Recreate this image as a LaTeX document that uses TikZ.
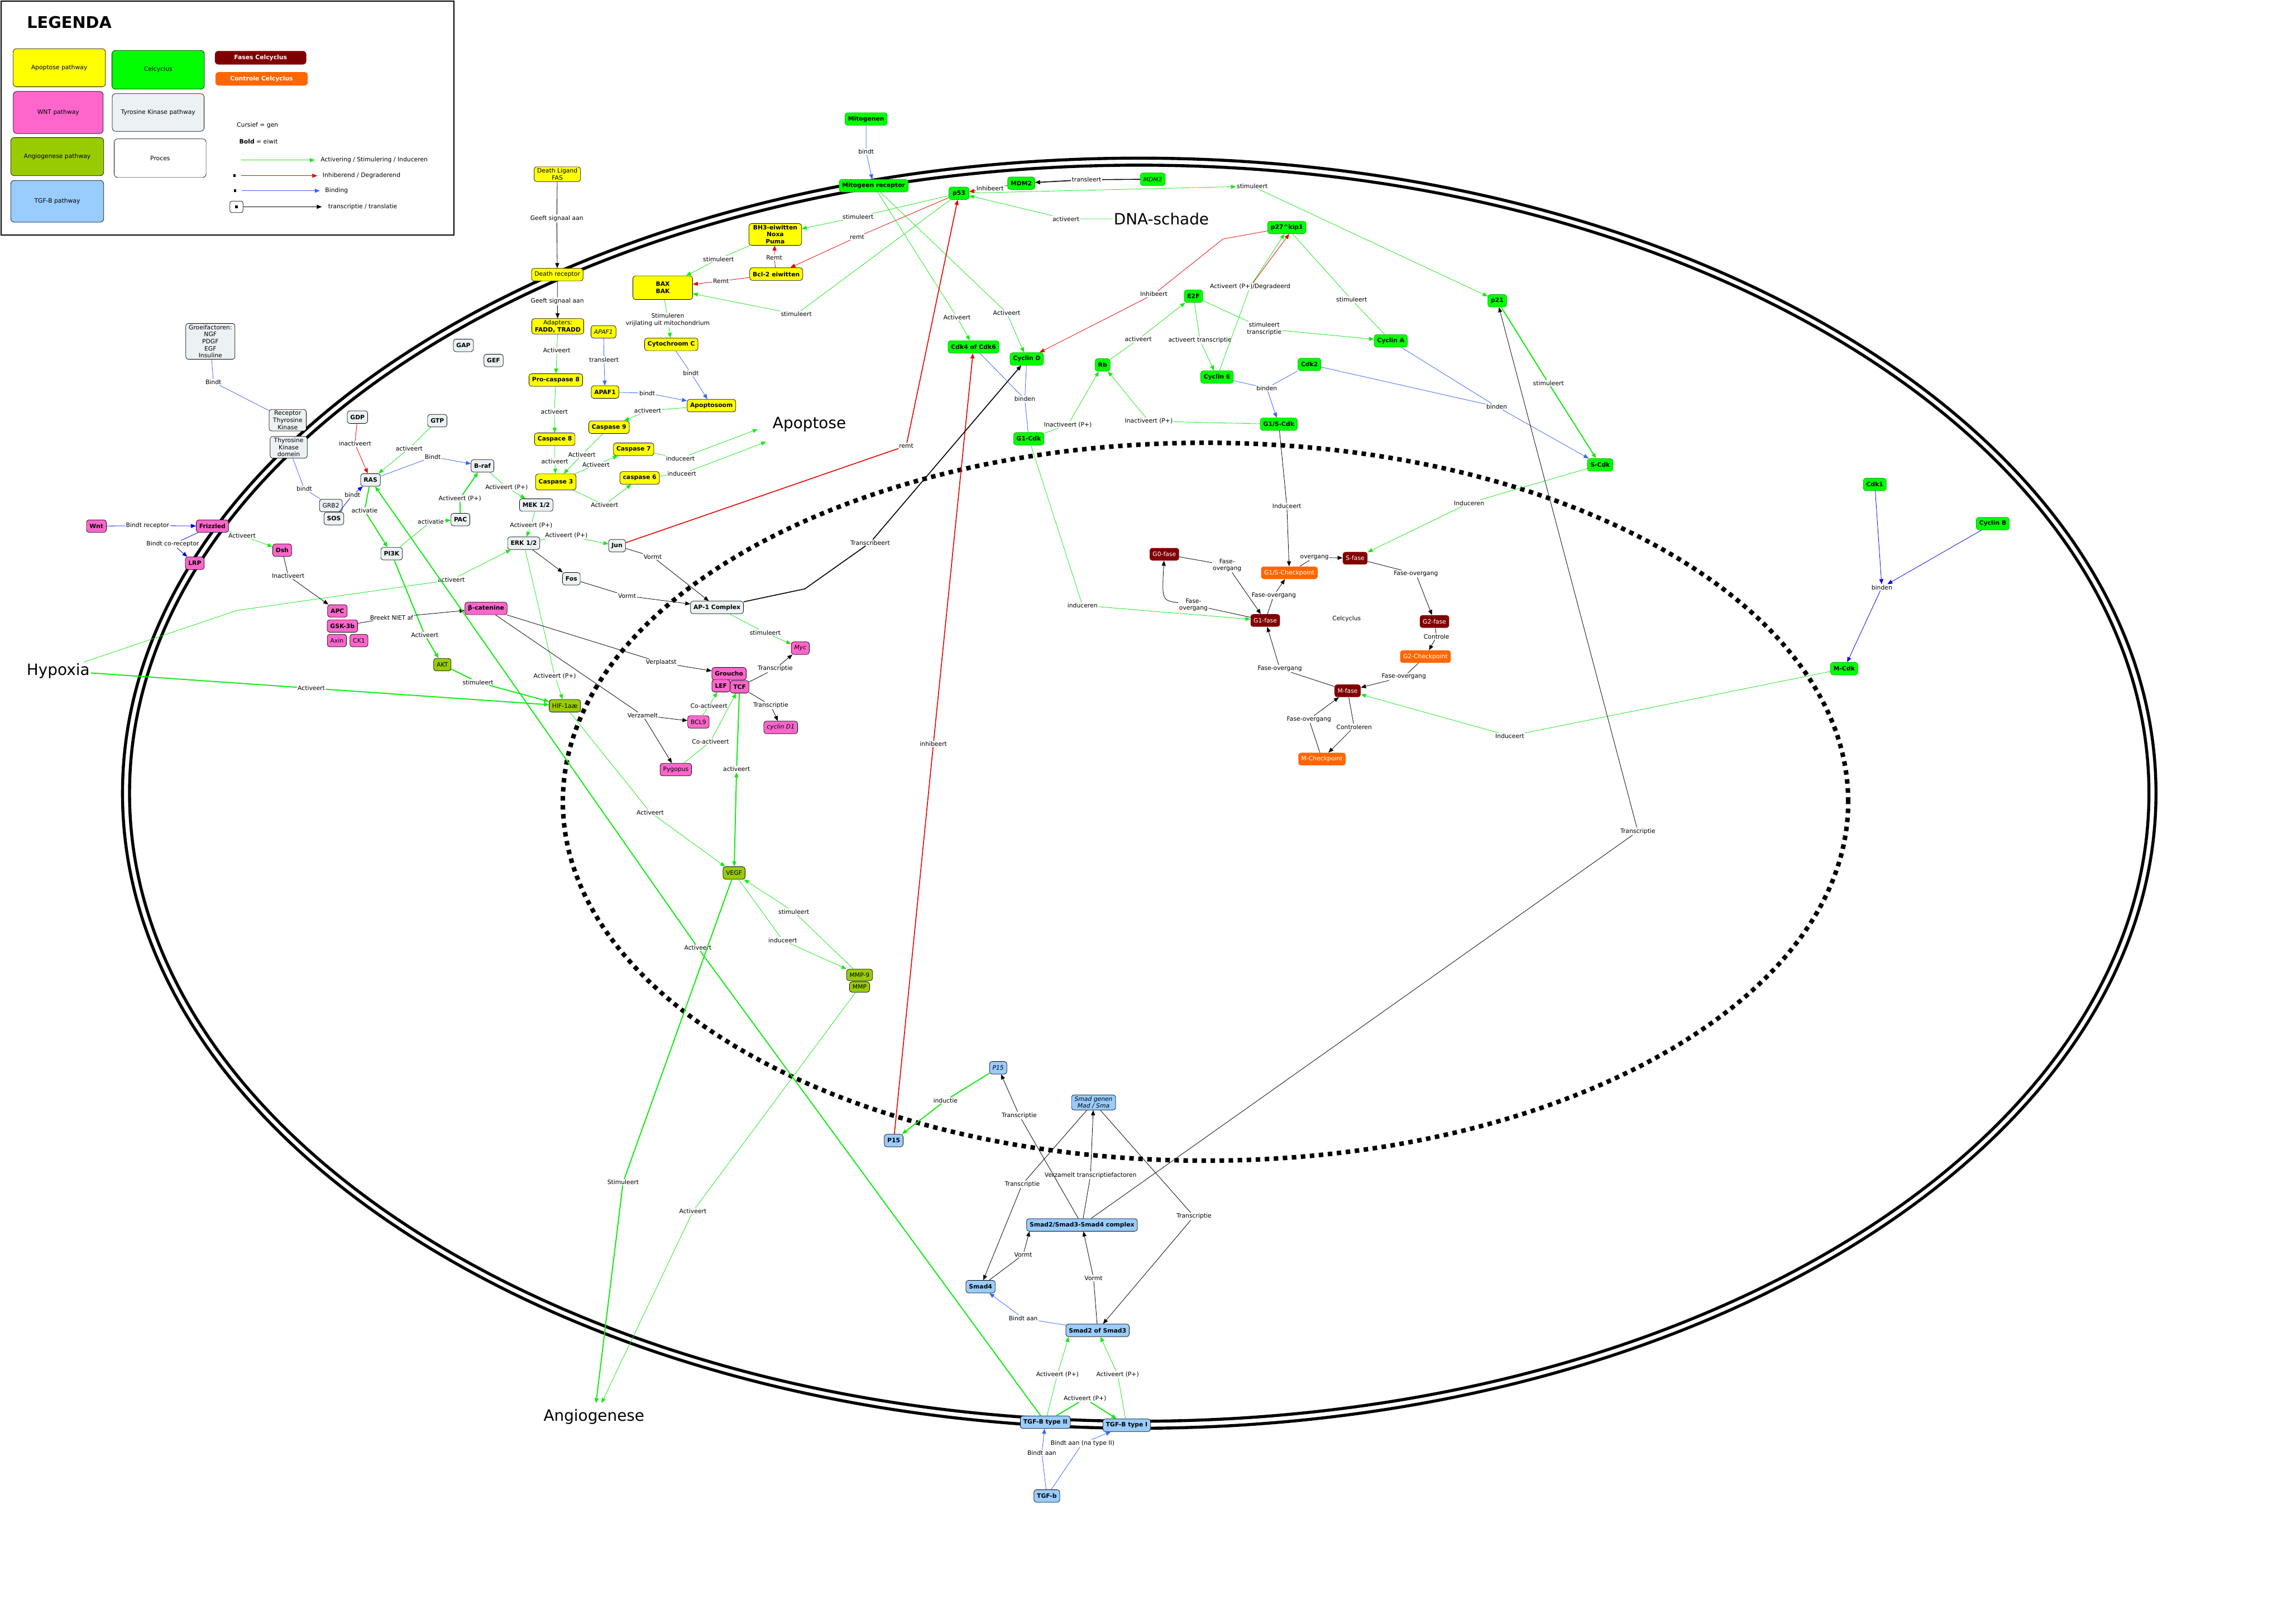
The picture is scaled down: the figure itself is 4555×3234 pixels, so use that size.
\documentclass[tikz,border=0pt]{standalone}
\usepackage{fontspec}
\setmainfont{DejaVu Sans}
\usetikzlibrary{arrows.meta}
\definecolor{apoY}{RGB}{255,255,0}
\definecolor{celG}{RGB}{0,255,0}
\definecolor{wntP}{RGB}{255,102,204}
\definecolor{tyrG}{RGB}{236,242,244}
\definecolor{angO}{RGB}{153,204,0}
\definecolor{tgfB}{RGB}{153,204,255}
\definecolor{faseR}{RGB}{128,0,0}
\definecolor{ctrlO}{RGB}{255,102,0}
\definecolor{lineG}{RGB}{20,235,20}
\definecolor{lineR}{RGB}{235,0,0}
\definecolor{lineB}{RGB}{51,102,255}
\definecolor{lineDB}{RGB}{0,0,230}
\newcommand{\mapfont}{\fontsize{12}{14}\selectfont}

\begin{document}
\begin{tikzpicture}[x=1pt,y=-1pt,
    box/.style={draw,rounded corners=5pt,line width=0.8pt,align=center,inner xsep=6pt,inner ysep=3pt,minimum height=25pt,font=\mapfont\bfseries},
    apo/.style={box,fill=apoY},
    cel/.style={box,fill=celG,draw=celG!70!black},
    wnt/.style={box,fill=wntP},
    tyr/.style={box,fill=tyrG},
    ang/.style={box,fill=angO,font=\mapfont},
    tgf/.style={box,fill=tgfB},
    fase/.style={box,fill=faseR,draw=none,text=white,font=\mapfont},
    ctrl/.style={box,fill=ctrlO,draw=none,text=white,font=\mapfont},
    gen/.style={font=\mapfont\itshape},
    lbl/.style={font=\mapfont,inner sep=1.5pt,align=center},
    big/.style={font=\fontsize{31}{37}\selectfont,inner sep=2pt},
    legbox/.style={draw,rounded corners=7pt,line width=0.8pt,font=\mapfont,align=center},
    sq/.style={fill=black,minimum size=5pt,inner sep=0pt},
    gl/.style={draw=lineG,line width=0.9pt},
    glb/.style={draw=lineG,line width=2.2pt},
    rl/.style={draw=lineR,line width=0.9pt},
    rlb/.style={draw=lineR,line width=1.8pt},
    bl/.style={draw=lineB,line width=0.9pt},
    dbl/.style={draw=lineDB,line width=0.9pt},
    kl/.style={draw=black,line width=0.9pt},
    klb/.style={draw=black,line width=1.8pt},
    arr/.style={-{Triangle[length=10pt,width=8pt]}},
    arr2/.style={{Triangle[length=10pt,width=8pt]}-{Triangle[length=10pt,width=8pt]}}
]
\useasboundingbox (0,0) rectangle (4555,3234);
\fill[white] (0,0) rectangle (4555,3234);

\draw[line width=2pt] (2,2) rectangle (904,468);
\node[font=\fontsize{32}{38}\selectfont\bfseries] (legTitle) at (138,45) {LEGENDA};
\node[legbox,fill=apoY,minimum width=184pt,minimum height=76pt]  (legApo)  at (118,135) {Apoptose pathway};
\node[legbox,fill=celG,minimum width=184pt,minimum height=77pt]  (legCel)  at (315,139) {Celcyclus};
\node[legbox,fill=faseR,draw=none,text=white,font=\mapfont\bfseries,minimum width=182pt,minimum height=27pt] (legFase) at (519,115) {Fases Celcyclus};
\node[legbox,fill=ctrlO,draw=none,text=white,font=\mapfont\bfseries,minimum width=184pt,minimum height=27pt] (legCtrl) at (521,157) {Controle Celcyclus};
\node[legbox,fill=wntP,minimum width=179pt,minimum height=84pt]  (legWnt)  at (116,224) {WNT pathway};
\node[legbox,fill=tyrG,minimum width=183pt,minimum height=75pt]  (legTyr)  at (315,224) {Tyrosine Kinase pathway};
\node[legbox,fill=angO,minimum width=185pt,minimum height=76pt]  (legAng)  at (114,312) {Angiogenese pathway};
\node[legbox,fill=white,minimum width=183pt,minimum height=77pt] (legProc) at (319,315) {Proces};
\node[legbox,fill=tgfB,minimum width=185pt,minimum height=83pt]  (legTgf)  at (114,401) {TGF-B pathway};
\node[lbl,anchor=west] (legGen)  at (470,250) {Cursief = gen};
\node[lbl,anchor=west] (legBold) at (475,282) {\textbf{Bold} = eiwit};
\coordinate (legG1) at (480,319); \coordinate (legG2) at (627,319);
\coordinate (legR1) at (480,350); \coordinate (legR2) at (632,350);
\coordinate (legB1) at (481,380); \coordinate (legB2) at (637,380);
\coordinate (legK2) at (641,412);
\node[sq] (legSqR) at (467,350) {};
\node[sq] (legSqB) at (468,380) {};
\node[draw,rounded corners=4pt,line width=0.8pt,minimum width=26pt,minimum height=23pt] (legBoxK) at (471,412) {};
\node[sq] (legSqK) at (471,412) {};
\draw[gl,arr] (legG1) -- (legG2);
\draw[rl,arr] (legR1) -- (legR2);
\draw[bl,arr] (legB1) -- (legB2);
\draw[kl,arr] (legBoxK) -- (legK2);
\node[lbl,anchor=west] (legGt) at (637,319) {Activering / Stimulering / Induceren};
\node[lbl,anchor=west] (legRt) at (641,350) {Inhiberend / Degraderend};
\node[lbl,anchor=west] (legBt) at (646,380) {Binding};
\node[lbl,anchor=west] (legKt) at (652,412) {transcriptie / translatie};

\draw[line width=6pt] (2269,1580) ellipse [x radius=2025pt, y radius=1265pt];
\draw[line width=6pt] (2269,1580) ellipse [x radius=2011pt, y radius=1251pt];
\draw[line width=9pt,dash pattern=on 9pt off 9pt] (2401,1597) ellipse [x radius=1280pt, y radius=715pt];

\node[big] (apoTxt) at (1612,845)  {Apoptose};
\node[big] (dnaTxt) at (2313,436)  {DNA-schade};
\node[big] (hypTxt) at (116,1336)  {Hypoxia};
\node[big] (angTxt) at (1183,2822) {Angiogenese};
\node[lbl] (celTxt) at (2682,1233) {Celcyclus};

\node[apo,font=\mapfont] (dLig)  at (1110,347) {Death Ligand\\FAS};
\node[apo,font=\mapfont] (dRec)  at (1110,547) {Death receptor};
\node[apo,font=\mapfont] (adapt) at (1111,650) {Adapters:\\\textbf{FADD, TRADD}};
\node[apo,gen]  (apafGen) at (1202,661) {APAF1};
\node[apo]      (proC8)   at (1107,757) {Pro-caspase 8};
\node[apo]      (apaf)    at (1205,781) {APAF1};
\node[apo]      (apopt)   at (1417,808) {Apoptosoom};
\node[apo]      (cytC)    at (1337,686) {Cytochroom C};
\node[apo,minimum width=119pt,minimum height=47pt] (bax) at (1320,573) {BAX\\BAK};
\node[apo,minimum width=105pt] (bh3) at (1544,467) {BH3-eiwitten\\Noxa\\Puma};
\node[apo]      (bcl2)    at (1546,546) {Bcl-2 eiwitten};
\node[apo]      (casp9)   at (1213,851) {Caspase 9};
\node[apo]      (casp8)   at (1105,875) {Caspace 8};
\node[apo]      (casp7)   at (1262,895) {Caspase 7};
\node[apo,minimum height=32pt] (casp3) at (1107,960) {Caspase 3};
\node[apo]      (casp6)   at (1274,952) {caspase 6};

\node[cel] (mitog)   at (1725,237) {Mitogenen};
\node[cel] (mitRec)  at (1740,370) {Mitogeen receptor};
\node[cel] (mdm2)    at (2034,365) {MDM2};
\node[cel,gen] (mdm2Gen) at (2296,357) {MDM2};
\node[cel,minimum width=40pt] (p53) at (1910,385) {p53};
\node[cel] (p27)     at (2563,453) {p27\textasciicircum kip1};
\node[cel] (e2f)     at (2377,590) {E2F};
\node[cel] (cycA)    at (2770,679) {Cyclin A};
\node[cel] (cdk46)   at (1939,691) {Cdk4 of Cdk6};
\node[cel] (cycD)    at (2045,715) {Cyclin D};
\node[cel] (rb)      at (2196,727) {Rb};
\node[cel] (cycE)    at (2424,751) {Cyclin E};
\node[cel] (cdk2)    at (2608,726) {Cdk2};
\node[cel] (g1sCdk)  at (2547,845) {G1/S-Cdk};
\node[cel] (g1Cdk)   at (2049,874) {G1-Cdk};
\node[cel] (p21)     at (2982,599) {p21};
\node[cel] (sCdk)    at (3187,926) {S-Cdk};
\node[cel] (cdk1)    at (3734,965) {Cdk1};
\node[cel] (cycB)    at (3969,1043) {Cyclin B};
\node[cel] (mCdk)    at (3673,1332) {M-Cdk};

\node[fase] (g0)     at (2319,1104) {G0-fase};
\node[fase] (sFase)  at (2699,1112) {S-fase};
\node[fase] (g1Fase) at (2520,1236) {G1-fase};
\node[fase] (g2Fase) at (2857,1238) {G2-fase};
\node[fase] (mFase)  at (2684,1376) {M-fase};
\node[ctrl] (g1sChk) at (2568,1141) {G1/S-Checkpoint};
\node[ctrl] (g2Chk)  at (2839,1308) {G2-Checkpoint};
\node[ctrl] (mChk)   at (2633,1512) {M-Checkpoint};

\node[tyr,font=\mapfont] (groei) at (419,680) {Groeifactoren:\\NGF\\PDGF\\EGF\\Insuline};
\node[tyr,font=\mapfont,minimum width=74pt] (recTK) at (573,837) {Receptor\\Thyrosine\\Kinase};
\node[tyr,font=\mapfont,minimum width=74pt] (tkDom) at (575,891) {Thyrosine\\Kinase\\domein};
\node[tyr] (gap)  at (923,688)  {GAP};
\node[tyr] (gef)  at (983,718)  {GEF};
\node[tyr] (gdp)  at (712,831)  {GDP};
\node[tyr] (gtp)  at (871,838)  {GTP};
\node[tyr] (ras)  at (738,956)  {RAS};
\node[tyr] (braf) at (961,928)  {B-raf};
\node[tyr,font=\mapfont] (grb2) at (659,1007) {GRB2};
\node[tyr] (sos)  at (665,1033) {SOS};
\node[tyr] (pac)  at (917,1035) {PAC};
\node[tyr] (mek)  at (1068,1006) {MEK 1/2};
\node[tyr] (pi3k) at (780,1103) {PI3K};
\node[tyr] (erk)  at (1043,1082) {ERK 1/2};
\node[tyr] (fos)  at (1138,1153) {Fos};
\node[tyr] (jun)  at (1229,1087) {Jun};
\node[tyr] (ap1)  at (1428,1210) {AP-1 Complex};

\node[wnt] (wntN)    at (192,1048)  {Wnt};
\node[wnt] (frz)     at (423,1048)  {Frizzled};
\node[wnt] (lrp)     at (388,1122)  {LRP};
\node[wnt] (dsh)     at (562,1096)  {Dsh};
\node[wnt] (apc)     at (672,1217)  {APC};
\node[wnt] (gsk)     at (682,1247)  {GSK-3b};
\node[wnt,font=\mapfont] (axin) at (671,1276) {Axin};
\node[wnt,font=\mapfont] (ck1)  at (715,1276) {CK1};
\node[wnt] (bcat)    at (968,1212)  {β-catenine};
\node[wnt,gen] (myc) at (1594,1291) {Myc};
\node[wnt] (groucho) at (1452,1342) {Groucho};
\node[wnt] (lef)     at (1436,1366) {LEF};
\node[wnt] (tcf)     at (1473,1368) {TCF};
\node[wnt,gen] (cycD1) at (1555,1449) {cyclin D1};
\node[wnt,font=\mapfont] (bcl9) at (1391,1438) {BCL9};
\node[wnt,font=\mapfont] (pygo) at (1346,1533) {Pygopus};

\node[ang] (akt)  at (881,1324)  {AKT};
\node[ang] (hif)  at (1125,1406) {HIF-1aæ};
\node[ang] (vegf) at (1462,1739) {VEGF};
\node[ang,minimum height=23pt] (mmp9) at (1712,1942) {MMP-9};
\node[ang,minimum height=21pt] (mmp)  at (1712,1966) {MMP};

\node[tgf] (p15)     at (1780,2272) {P15};
\node[tgf,gen] (p15Gen)  at (1988,2127) {P15};
\node[tgf,gen] (smadGen) at (2178,2196) {Smad genen\\Mad / Sma};
\node[tgf] (cplx)    at (2155,2440) {Smad2/Smad3-Smad4 complex};
\node[tgf] (smad4)   at (1953,2563) {Smad4};
\node[tgf] (smad23)  at (2186,2650) {Smad2 of Smad3};
\node[tgf] (tgfR2)   at (2082,2833) {TGF-B type II};
\node[tgf] (tgfR1)   at (2244,2839) {TGF-B type I};
\node[tgf] (tgfb)    at (2085,2980) {TGF-b};

\node[lbl] (lFas)    at (1109,435)  {Geeft signaal aan};
\node[lbl] (lRec)    at (1110,600)  {Geeft signaal aan};
\node[lbl] (lAdapt)  at (1109,698)  {Activeert};
\node[lbl] (lApafT)  at (1203,717)  {transleert};
\node[lbl] (lApafB)  at (1289,783)  {bindt};
\node[lbl] (lCytB)   at (1376,743)  {bindt};
\node[lbl] (lBax)    at (1330,637)  {Stimuleren\\vrijlating uit mitochondrium};
\node[lbl] (lPro)    at (1104,820)  {activeert};
\node[lbl] (lApo9)   at (1290,818)  {activeert};
\node[lbl] (lC83)    at (1105,919)  {activeert};
\node[lbl] (lC93)    at (1159,906)  {Activeert};
\node[lbl] (lC37)    at (1187,926)  {Activeert};
\node[lbl] (lC36)    at (1204,1006) {Activeert};
\node[lbl] (lC7)     at (1355,913)  {induceert};
\node[lbl] (lC6)     at (1358,944)  {induceert};
\coordinate (apoIn1) at (1509,855);
\coordinate (apoIn2) at (1526,880);
\node[lbl] (lMitog)  at (1725,302)  {bindt};
\node[lbl] (lP53Bh3) at (1709,432)  {stimuleert};
\node[lbl] (lBh3Bax) at (1431,516)  {stimuleert};
\node[lbl] (lBclBh3) at (1542,513)  {Remt};
\node[lbl] (lBclBax) at (1436,560)  {Remt};
\node[lbl] (lP53Bcl) at (1707,472)  {remt};
\node[lbl] (lP53Bax) at (1586,626)  {stimuleert};
\node[lbl] (lMrCdk)  at (1906,632)  {Activeert};
\node[lbl] (lMrCyc)  at (2005,623)  {Activeert};
\node[lbl] (lJunP53) at (1805,888)  {remt};
\node[lbl] (lP15Cdk) at (1859,1482) {inhibeert};
\node[lbl] (lAp1)    at (1733,1081) {Transcribeert};
\coordinate (ap1Bend) at (1603,1173);
\node[lbl] (lBind1)  at (2041,795)  {binden};
\node[lbl] (lG1Rb)   at (2127,846)  {Inactiveert (P+)};
\node[lbl] (lG1sRb)  at (2288,839)  {Inactiveert (P+)};
\node[lbl] (lRbE2f)  at (2267,676)  {activeert};
\node[lbl] (lE2fE)   at (2390,678)  {activeert transcriptie};
\node[lbl] (lE2fA)   at (2518,655)  {stimuleert\\transcriptie};
\node[lbl] (lDegr)   at (2490,571)  {Activeert (P+)/Degradeerd};
\node[lbl] (lP27D)   at (2298,586)  {Inhibeert};
\coordinate (p27Bend) at (2436,476);
\node[lbl] (lAP27)   at (2692,597)  {stimuleert};
\node[lbl] (lBind2)  at (2523,773)  {binden};
\node[lbl] (lBind3)  at (2981,810)  {binden};
\node[lbl] (lP53P21) at (2494,371)  {stimuleert};
\node[lbl] (lMdm)    at (2164,358)  {transleert};
\node[lbl] (lMdmP53) at (1972,375)  {Inhibeert};
\node[lbl] (lDna)    at (2123,436)  {activeert};
\node[lbl] (lP21S)   at (3084,763)  {stimuleert};
\node[lbl] (lG1sInd) at (2563,1008) {Induceert};
\node[lbl] (lSInd)   at (2926,1002) {Induceren};
\node[lbl] (lMInd)   at (3007,1466) {Induceert};
\node[lbl] (lBind4)  at (3748,1170) {binden};
\node[lbl] (lG1Ind)  at (2156,1206) {induceren};
\node[lbl] (lOverg)  at (2618,1110) {overgang};
\node[lbl] (lSG2)    at (2820,1143) {Fase-overgang};
\node[lbl] (lG2Ctl)  at (2861,1268) {Controle};
\node[lbl] (lG2M)    at (2796,1348) {Fase-overgang};
\node[lbl] (lMG1)    at (2549,1332) {Fase-overgang};
\node[lbl] (lMCtl)   at (2697,1448) {Controleren};
\node[lbl] (lMChk)   at (2607,1433) {Fase-overgang};
\node[lbl] (lG1G1s)  at (2537,1186) {Fase-overgang};
\node[lbl] (lG0G1)   at (2444,1126) {Fase-\\overgang};
\node[lbl] (lG1G0)   at (2377,1205) {Fase-\\overgang};
\node[lbl] (lGroei)  at (425,761)   {Bindt};
\node[lbl] (lTkGrb)  at (606,974)   {bindt};
\node[lbl] (lSosRas) at (702,986)   {bindt};
\node[lbl] (lGdp)    at (707,884)   {inactiveert};
\node[lbl] (lGtp)    at (815,893)   {activeert};
\node[lbl] (lRasBraf) at (862,910)  {Bindt};
\node[lbl] (lRasPi3k) at (726,1017) {activatie};
\node[lbl] (lPi3kPac) at (858,1039) {activatie};
\node[lbl] (lPacBraf) at (916,993)  {Activeert (P+)};
\node[lbl] (lBrafMek) at (1009,971) {Activeert (P+)};
\node[lbl] (lMekErk) at (1058,1047) {Activeert (P+)};
\node[lbl] (lErkJun) at (1128,1067) {Activeert (P+)};
\node[lbl] (lErkHif) at (1105,1347) {Activeert (P+)};
\node[lbl] (lJunAp1) at (1300,1109) {Vormt};
\node[lbl] (lFosAp1) at (1249,1187) {Vormt};
\node[lbl] (lAp1Myc) at (1524,1260) {stimuleert};
\node[lbl] (lTcfMyc) at (1544,1332) {Transcriptie};
\node[lbl] (lTcfD1)  at (1535,1405) {Transcriptie};
\node[lbl] (lBcatGr) at (1317,1320) {Verplaatst};
\node[lbl] (lVerz)   at (1280,1425) {Verzamelt};
\node[lbl] (lBcl9)   at (1412,1406) {Co-activeert};
\node[lbl] (lPygo)   at (1415,1477) {Co-activeert};
\node[lbl] (lTcfVegf) at (1467,1532) {activeert};
\node[lbl] (lHypHif) at (620,1371)  {Activeert};
\node[lbl] (lHypErk) at (899,1155)  {activeert};
\coordinate (hypBend) at (472,1216);
\node[lbl] (lAktHif) at (952,1359)  {stimuleert};
\node[lbl] (lPi3kAkt) at (846,1265) {Activeert};
\node[lbl] (lWnt)    at (294,1047)  {Bindt receptor};
\node[lbl] (lLrp)    at (344,1084)  {Bindt co-receptor};
\node[lbl] (lDsh)    at (482,1067)  {Activeert};
\node[lbl] (lDshApc) at (574,1147)  {Inactiveert};
\node[lbl] (lGskB)   at (780,1230)  {Breekt NIET af};
\node[lbl] (lHifVegf) at (1295,1618) {Activeert};
\node[lbl] (lTgfRas) at (1390,1888) {Activeert};
\node[lbl] (lVegfAng) at (1241,2355) {Stimuleert};
\node[lbl] (lMmpAng) at (1380,2413) {Activeert};
\coordinate (angIn1) at (1187,2795);
\coordinate (angIn2) at (1198,2795);
\node[lbl] (lMmpVegf) at (1581,1816) {stimuleert};
\node[lbl] (lVegfMmp) at (1559,1873) {induceert};
\node[lbl] (lInduc)  at (1883,2192) {inductie};
\node[lbl] (lCpP15)  at (2030,2222) {Transcriptie};
\node[lbl] (lGenS4)  at (2036,2359) {Transcriptie};
\node[lbl] (lCpGen)  at (2172,2341) {Verzamelt transcriptiefactoren};
\node[lbl] (lGenS23) at (2378,2423) {Transcriptie};
\node[lbl] (lS4Cp)   at (2038,2499) {Vormt};
\node[lbl] (lS23Cp)  at (2178,2546) {Vormt};
\node[lbl] (lS23S4)  at (2038,2626) {Bindt aan};
\node[lbl] (lR2S)    at (2106,2738) {Activeert (P+)};
\node[lbl] (lR1S)    at (2226,2738) {Activeert (P+)};
\node[lbl] (lR2R1)   at (2161,2786) {Activeert (P+)};
\node[lbl] (lTgbR1)  at (2156,2875) {Bindt aan (na type II)};
\node[lbl] (lTgbR2)  at (2075,2894) {Bindt aan};
\node[lbl] (lCpP21)  at (3262,1656) {Transcriptie};

\draw[kl,arr] (dLig) -- (lFas) -- (dRec);
\draw[kl,arr] (dRec) -- (lRec) -- (adapt);
\draw[gl,arr] (adapt) -- (lAdapt) -- (proC8);
\draw[bl,arr] (apafGen) -- (lApafT) -- (apaf);
\draw[bl,arr] (apaf) -- (lApafB) -- (apopt);
\draw[bl,arr] (cytC) -- (lCytB) -- (apopt);
\draw[gl,arr] (bax) -- (lBax) -- (cytC);
\draw[gl,arr] (proC8) -- (lPro) -- (casp8);
\draw[gl,arr] (apopt) -- (lApo9) -- (casp9);
\draw[gl,arr] (casp8) -- (lC83) -- (casp3);
\draw[gl,arr] (casp9) -- (lC93) -- (casp3);
\draw[gl,arr] (casp3) -- (lC37) -- (casp7);
\draw[gl,arr] (casp3) -- (lC36) -- (casp6);
\draw[gl,arr] (casp7) -- (lC7) -- (apoIn1);
\draw[gl,arr] (casp6) -- (lC6) -- (apoIn2);

\draw[bl,arr] (mitog) -- (lMitog) -- (mitRec);
\draw[gl,arr] (p53) -- (lP53Bh3) -- (bh3);
\draw[gl,arr] (bh3) -- (lBh3Bax) -- (bax);
\draw[rl,arr] (bcl2) -- (lBclBh3) -- (bh3);
\draw[rl,arr] (bcl2) -- (lBclBax) -- (bax);
\draw[rl,arr] (p53) -- (lP53Bcl) -- (bcl2);
\draw[gl,arr] (p53) -- (lP53Bax) -- (bax);
\draw[gl,arr] (mitRec) -- (lMrCdk) -- (cdk46);
\draw[gl,arr] (mitRec) -- (lMrCyc) -- (cycD);
\draw[rlb,arr] (jun) -- (lJunP53) -- (p53);
\draw[rlb,arr] (p15) -- (lP15Cdk) -- (cdk46);
\draw[klb,arr] (ap1) -- (ap1Bend) -- (lAp1) -- (cycD);
\draw[bl] (cdk46) -- (lBind1);
\draw[bl] (cycD) -- (lBind1) -- (g1Cdk);
\draw[gl,arr] (g1Cdk) -- (lG1Rb) -- (rb);
\draw[gl,arr] (g1sCdk) -- (lG1sRb) -- (rb);
\draw[gl,arr] (rb) -- (lRbE2f) -- (e2f);
\draw[gl,arr] (e2f) -- (lE2fE) -- (cycE);
\draw[gl,arr] (e2f) -- (lE2fA) -- (cycA);
\draw[gl,arr] (cycE) -- (lDegr) -- (p27.250);
\draw[rl,arr] (lDegr) -- (p27.290);
\draw[rl,arr] (p27) -- (p27Bend) -- (lP27D) -- (cycD);
\draw[gl] (cycA) -- (lAP27) -- (p27);
\draw[bl] (cycE) -- (lBind2);
\draw[bl,arr] (cdk2) -- (lBind2) -- (g1sCdk);
\draw[bl] (cdk2) -- (lBind3);
\draw[bl,arr] (cycA) -- (lBind3) -- (sCdk);
\draw[gl,arr] (p53) -- (lP53P21);
\draw[gl,arr] (lP53P21) -- (p21);
\draw[klb,arr] (mdm2Gen) -- (lMdm) -- (mdm2);
\draw[rl,arr] (mdm2) -- (lMdmP53) -- (p53);
\draw[gl,arr] (dnaTxt) -- (lDna) -- (p53);
\draw[glb,arr] (p21) -- (lP21S) -- (sCdk);
\draw[kl,arr] (g1sCdk) -- (lG1sInd) -- (g1sChk);
\draw[gl,arr] (sCdk) -- (lSInd) -- (sFase);
\draw[gl,arr] (mCdk) -- (lMInd) -- (mFase);
\draw[dbl,arr] (cdk1) -- (lBind4);
\draw[dbl,arr] (cycB) -- (lBind4);
\draw[dbl,arr] (lBind4) -- (mCdk);
\draw[gl,arr] (g1Cdk) -- (lG1Ind) -- (g1Fase);
\draw[kl,arr] (g1sChk) -- (lOverg) -- (sFase);
\draw[kl,arr] (sFase) -- (lSG2) -- (g2Fase);
\draw[kl,arr] (g2Fase) -- (lG2Ctl) -- (g2Chk);
\draw[kl,arr] (g2Chk) -- (lG2M) -- (mFase);
\draw[kl,arr] (mFase) -- (lMG1) -- (g1Fase);
\draw[kl,arr] (mFase) -- (lMCtl) -- (mChk);
\draw[kl,arr] (mChk) -- (lMChk) -- (mFase);
\draw[kl,arr] (g1Fase) -- (lG1G1s) -- (g1sChk);
\draw[kl,arr] (g0) -- (lG0G1) -- (g1Fase);
\draw[kl,arr] (g1Fase) -- (lG1G0) .. controls (2314,1196) .. (g0);

\draw[bl] (groei) -- (lGroei) -- (recTK);
\draw[bl] (tkDom) -- (lTkGrb) -- (grb2);
\draw[dbl,arr] (sos) -- (lSosRas) -- (ras);
\draw[rl,arr] (gdp) -- (lGdp) -- (ras);
\draw[gl,arr] (gtp) -- (lGtp) -- (ras);
\draw[bl,arr] (ras) -- (lRasBraf) -- (braf);
\draw[glb,arr] (ras) -- (lRasPi3k) -- (pi3k);
\draw[gl,arr] (pi3k) -- (lPi3kPac) -- (pac);
\draw[glb,arr] (pac) -- (lPacBraf) -- (braf);
\draw[gl,arr] (braf) -- (lBrafMek) -- (mek);
\draw[gl,arr] (mek) -- (lMekErk) -- (erk);
\draw[gl,arr] (erk) -- (lErkJun) -- (jun);
\draw[kl,arr] (erk) -- (fos);
\draw[gl,arr] (erk) -- (lErkHif) -- (hif);
\draw[kl,arr] (jun) -- (lJunAp1) -- (ap1);
\draw[kl,arr] (fos) -- (lFosAp1) -- (ap1);
\draw[gl,arr] (ap1) -- (lAp1Myc) -- (myc);
\draw[kl,arr] (tcf) -- (lTcfMyc) -- (myc);
\draw[kl,arr] (tcf) -- (lTcfD1) -- (cycD1);
\draw[kl,arr] (bcat) -- (lBcatGr) -- (groucho);
\draw[kl] (bcat) -- (lVerz);
\draw[kl,arr] (lVerz) -- (bcl9);
\draw[kl,arr] (lVerz) -- (pygo);
\draw[gl,arr] (bcl9) -- (lBcl9) -- (lef);
\draw[gl,arr] (pygo) -- (lPygo) -- (tcf);
\draw[glb,arr2] (tcf) -- (lTcfVegf) -- (vegf);
\draw[glb,arr] (hypTxt) -- (lHypHif) -- (hif);
\draw[gl,arr] (hypTxt) -- (hypBend) -- (lHypErk) -- (erk);
\draw[glb,arr] (akt) -- (lAktHif) -- (hif);
\draw[glb,arr] (pi3k) -- (lPi3kAkt) -- (akt);
\draw[dbl,arr] (wntN) -- (lWnt) -- (frz);
\draw[dbl,arr] (frz) -- (lLrp) -- (lrp);
\draw[gl,arr] (frz) -- (lDsh) -- (dsh);
\draw[kl,arr] (dsh) -- (lDshApc) -- (apc);
\draw[kl,arr] (gsk) -- (lGskB) -- (bcat);
\draw[gl,arr] (hif) -- (lHifVegf) -- (vegf);
\draw[glb,arr] (tgfR2) -- (lTgfRas) -- (ras);
\draw[glb,arr] (vegf) -- (lVegfAng) -- (angIn1);
\draw[gl,arr] (mmp) -- (lMmpAng) -- (angIn2);
\draw[gl,arr] (mmp9) -- (lMmpVegf) -- (vegf);
\draw[gl,arr] (vegf) -- (lVegfMmp) -- (mmp9);

\draw[glb,arr] (p15Gen) -- (lInduc) -- (p15);
\draw[kl,arr] (cplx) -- (lCpP15) -- (p15Gen);
\draw[kl,arr] (smadGen) -- (lGenS4) -- (smad4);
\draw[kl,arr] (cplx) -- (lCpGen) -- (smadGen);
\draw[kl,arr] (smadGen) -- (lGenS23) -- (smad23);
\draw[kl,arr] (smad4) -- (lS4Cp) -- ([xshift=6pt]cplx.south west);
\draw[kl,arr] (smad23) -- (lS23Cp) -- (cplx);
\draw[kl,arr] (cplx) -- (lCpP21) -- (p21);
\draw[bl,arr] (smad23) -- (lS23S4) -- (smad4);
\draw[gl,arr] (tgfR2) -- (lR2S) -- ([xshift=6pt]smad23.south west);
\draw[gl,arr] (tgfR1) -- (lR1S) -- (smad23);
\draw[glb,arr] (tgfR2) -- (lR2R1) -- (tgfR1);
\draw[bl,arr] (tgfb) -- (lTgbR2) -- (tgfR2);
\draw[bl,arr] (tgfb) -- (lTgbR1) -- (tgfR1);
\end{tikzpicture}
\end{document}
